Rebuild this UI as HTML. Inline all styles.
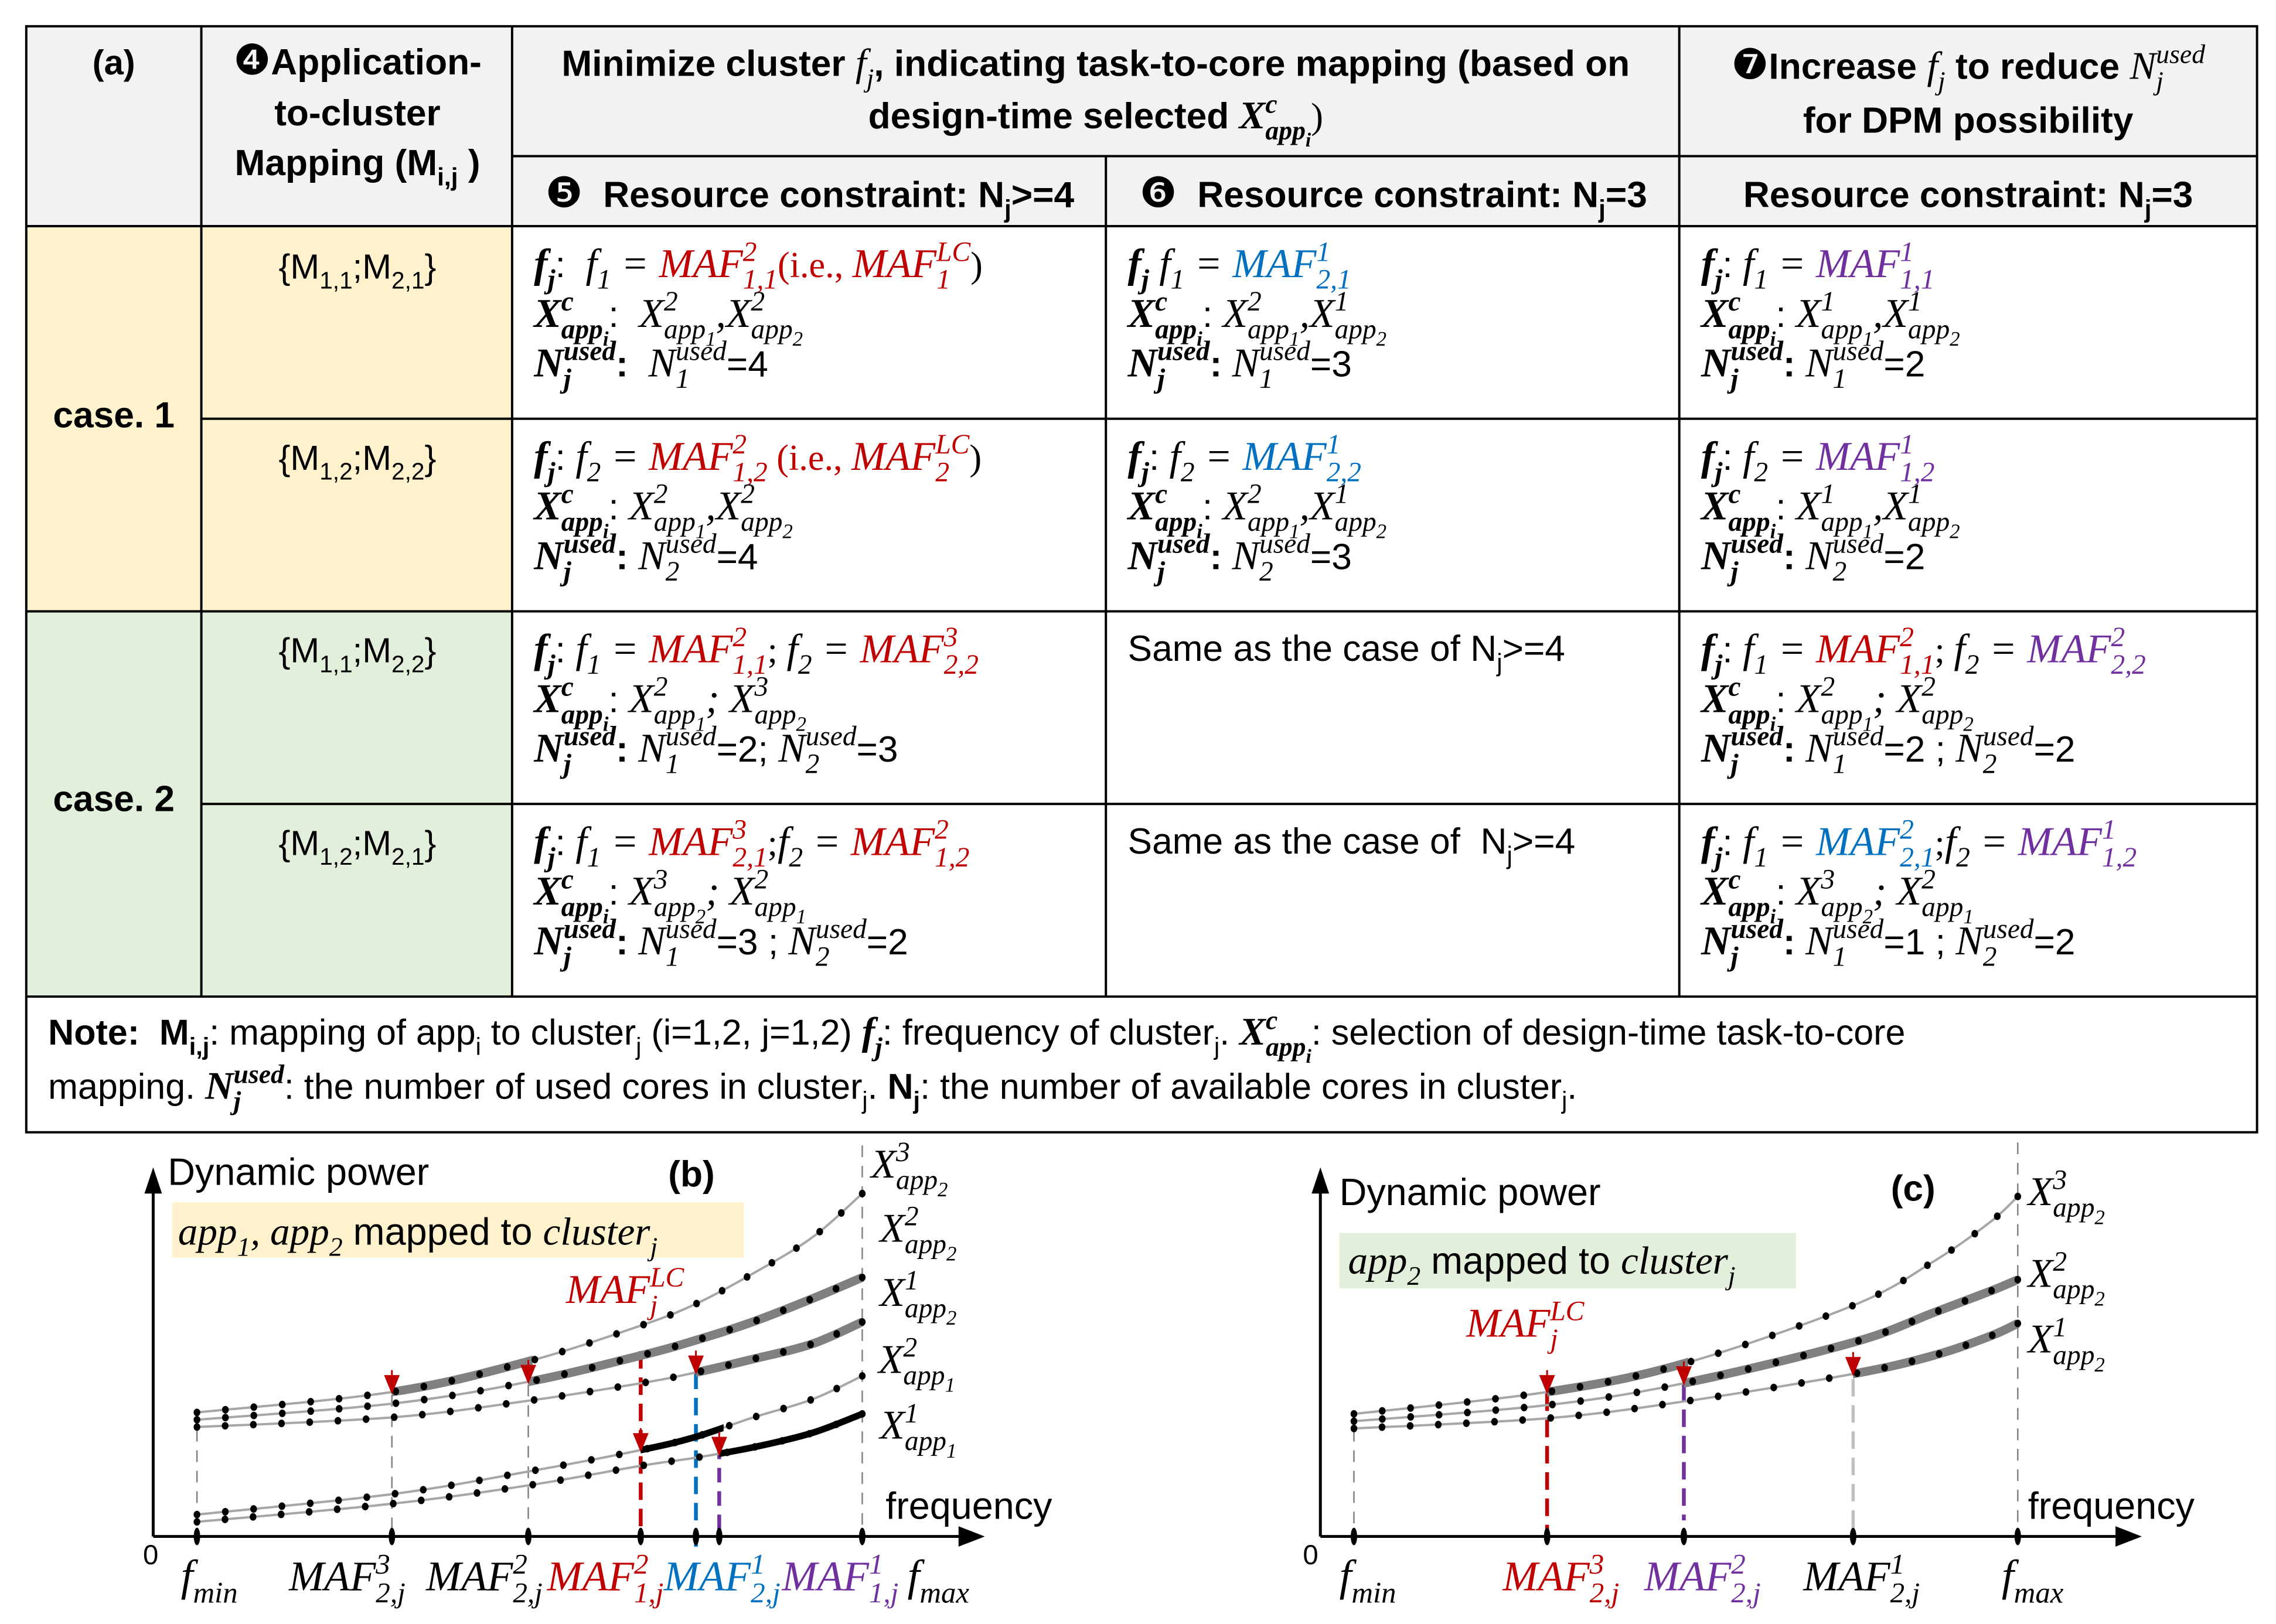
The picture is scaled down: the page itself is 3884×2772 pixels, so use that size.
<!DOCTYPE html>
<html><head><meta charset="utf-8"><title>Table and dynamic power charts</title>
<style>
html,body{margin:0;padding:0;background:#fff;}
svg{display:block;}
text{white-space:pre;}
</style></head>
<body>
<svg id="root" xmlns="http://www.w3.org/2000/svg" width="3884" height="2772" viewBox="0 0 1560 1113" preserveAspectRatio="none">
<defs id="defs"></defs>
<rect x="0" y="0" width="1560" height="1113" fill="#fff"/>
<g id="table">
<rect x="18" y="18" width="1529" height="137" fill="#f2f2f2"/>
<rect x="18" y="155" width="333" height="264" fill="#fff2cc"/>
<rect x="18" y="419" width="333" height="264" fill="#e2efda"/>
<g stroke="#000" stroke-width="1.6" fill="none">
<rect x="18" y="18" width="1529" height="758"/>
<line x1="138" y1="18" x2="138" y2="683"/>
<line x1="351" y1="18" x2="351" y2="683"/>
<line x1="758" y1="107" x2="758" y2="683"/>
<line x1="1151" y1="18" x2="1151" y2="683"/>
<line x1="351" y1="107" x2="1547" y2="107"/>
<line x1="18" y1="155" x2="1547" y2="155"/>
<line x1="138" y1="287" x2="1547" y2="287"/>
<line x1="18" y1="419" x2="1547" y2="419"/>
<line x1="138" y1="551" x2="1547" y2="551"/>
<line x1="18" y1="683" x2="1547" y2="683"/>
</g>
</g>
<g id="chartb"></g>
<g id="chartc"></g>
<g id="texts"></g>
</svg>
<script>
const NS='http://www.w3.org/2000/svg';
const R='#c00000', B='#0070c0', P='#7030a0';

// ---- chart (b) data ----
const bFreq=[0,0.293,0.498,0.667,0.75,0.835,0.925,1];
const bX3app2=[85,99,120,144.5,159.4,180,205,235];
const bX2app2=[80,91,106,124,134.5,147,163,177.5];
const bX1app2=[75,81.6,93,105,112.4,121.5,132,147];
const bX2app1=[15,29,44.5,59.2,68.3,81.4,94,110];
const bX1app1=[10,22.4,35,48.4,54,61,71,84];
const bTicks=[0,0.293,0.498,0.667,0.75,0.785,1];
// ---- chart (c) data ----
const cFreq=[0,0.291,0.497,0.752,0.873,0.958,1];
const cX3app2=[84,99,118.5,158.3,188.4,215.3,233];
const cX2app2=[79,90,105,133,153.3,168,176];
const cX1app2=[74,81,92.5,111.4,124,137.2,146];
const cTicks=[0,0.291,0.497,0.752,1];

function el(tag,attrs,parent){const e=document.createElementNS(NS,tag);for(const k in attrs)e.setAttribute(k,attrs[k]);parent.appendChild(e);return e;}

function T(parent,x,y,segs,size,anchor,name,msize){
  const t=document.createElementNS(NS,'text');
  t.setAttribute('x',x);t.setAttribute('y',y);
  t.setAttribute('font-size',size);
  if(anchor)t.setAttribute('text-anchor',anchor);
  
  
  parent.appendChild(t);
  let off=0,pending=0,prev=0,supW=0;
  function emit(txt,lvl,st,col,dx){
    if(!txt)return 0;
    const math=st.indexOf('m')>=0;
    let bs=math?(msize||size*1.08):size;
    if(st.indexOf('d')>=0)bs=size*1.15;
    const tg=[0,-0.4*bs,0.28*bs,0.46*bs], fs=[bs,0.68*bs,0.68*bs,0.5*bs];
    const s=document.createElementNS(NS,'tspan');
    
    
    s.setAttribute('dy',(tg[lvl]-off).toFixed(2));off=tg[lvl];
    const d=(dx||0)+pending;pending=0;
    if(d)s.setAttribute('dx',d.toFixed(2));
    s.setAttribute('font-size',fs[lvl].toFixed(2));
    let fam='"Liberation Sans", "DejaVu Sans", sans-serif';
    if(math){fam='"Liberation Serif", serif';s.setAttribute('font-style','italic');}
    if(st.indexOf('s')>=0)fam='"Liberation Serif", serif';
    if(st.indexOf('d')>=0){fam='"DejaVu Sans", sans-serif';}
    if(st.indexOf('b')>=0)s.setAttribute('font-weight','bold');
    s.setAttribute('font-family',fam);
    s.setAttribute('fill',col||'#000');
    s.textContent=txt;t.appendChild(s);
    let w=0;try{w=s.getComputedTextLength();}catch(e){w=txt.length*fs[lvl]*0.5;}
    return w;
  }
  for(const sg of segs){
    const str=sg[0],st=sg[1]||'',col=sg[2];
    let buf='',i=0;
    const flush=()=>{if(buf){emit(buf,0,st,col);prev=0;}buf='';};
    while(i<str.length){
      const c=str[i];
      if((c==='^'||c==='_')&&str[i+1]==='{'){
        flush();
        let j=str.indexOf('}',i);const inner=str.slice(i+2,j);i=j+1;
        if(c==='^'){supW=emit(inner,1,st,col);prev=1;}
        else{
          const after=(prev===1);
          const dx=after?-supW:0;
          const k=inner.indexOf('_');
          let subW;
          if(k>=0){subW=emit(inner.slice(0,k),2,st,col,dx);subW+=emit(inner.slice(k+1),3,st,col);}
          else subW=emit(inner,2,st,col,dx);
          if(after)pending=Math.max(0,supW-subW);
          prev=2;
        }
      } else {buf+=c;i++;}
    }
    flush();
  }
  return t;
}

const TX=document.getElementById('texts');
const S=25, MS=28;
// header
T(TX,78,51,[['(a)','b']],24,'middle','panel-a-label');
T(TX,245,51,[['❹','d'],['Application-','b']],25,'middle','col-mapping-header');
T(TX,245,86,[['to-cluster','b']],25,'middle','col-mapping-header-2');
T(TX,245,120,[['Mapping (M','b'],['_{i,j}','b'],[' )','b']],25,'middle','col-mapping-header-3');
T(TX,751,52,[['Minimize cluster ','b'],['f_{j}','m'],[', indicating task-to-core mapping (based on','b']],25,'middle','minimize-header',27);
T(TX,751,88,[['design-time selected ','b'],['X^{c}_{app_i}','mb'],[')','s']],25,'middle','minimize-header-2',27);
T(TX,1349,54,[['❼','d'],['Increase ','b'],['f_{j}','m'],[' to reduce ','b'],['N^{used}_{j}','m']],25,'middle','increase-header',27);
T(TX,1349,91,[['for DPM possibility','b']],25,'middle','increase-header-2');
T(TX,555,142,[['❺','d'],['  Resource constraint: N','b'],['_{j}','b'],['>=4','b']],25,'middle','constraint-header-5');
T(TX,955,142,[['❻','d'],['  Resource constraint: N','b'],['_{j}','b'],['=3','b']],25,'middle','constraint-header-6');
T(TX,1349,142,[['Resource constraint: N','b'],['_{j}','b'],['=3','b']],25,'middle','constraint-header-7');
T(TX,78,293,[['case. 1','b']],25,'middle','case1-label');
T(TX,78,556,[['case. 2','b']],25,'middle','case2-label');
T(TX,245,191,[['{M'],['_{1,1}'],[';M'],['_{2,1}'],['}']],24,'middle','mapping-row1');
T(TX,245,322,[['{M'],['_{1,2}'],[';M'],['_{2,2}'],['}']],24,'middle','mapping-row2');
T(TX,245,454,[['{M'],['_{1,1}'],[';M'],['_{2,2}'],['}']],24,'middle','mapping-row3');
T(TX,245,586,[['{M'],['_{1,2}'],[';M'],['_{2,1}'],['}']],24,'middle','mapping-row4');

function cell(x,top,l1,l2,l3,name){
  T(TX,x,top+35,l1,S,null,name+'-freq',MS);
  if(l2)T(TX,x,top+69,l2,S,null,name+'-mapping',MS);
  if(l3)T(TX,x,top+103,l3,S,null,name+'-used',MS);
}
const FJ=['f_{j}','mb'], XC=['X^{c}_{app_i}','mb'], NU=['N^{used}_{j}','mb'];
// row 1
cell(366,155,[FJ,[':  ',''],['f_{1} = ','m'],['MAF^{2}_{1,1}','m',R],['(i.e., ','s',R],['MAF^{LC}_{1}','m',R],[')','s']],
 [XC,[':  ',''],['X^{2}_{app_1},X^{2}_{app_2}','m']],[NU,[':  ','b'],['N^{used}_{1}','m'],['=4','']],'r1c1');
cell(773,155,[FJ,[' ',''],['f_{1} = ','m'],['MAF^{1}_{2,1}','m',B]],
 [XC,[': ',''],['X^{2}_{app_1},X^{1}_{app_2}','m']],[NU,[': ','b'],['N^{used}_{1}','m'],['=3','']],'r1c2');
cell(1166,155,[FJ,[': ',''],['f_{1} = ','m'],['MAF^{1}_{1,1}','m',P]],
 [XC,[': ',''],['X^{1}_{app_1},X^{1}_{app_2}','m']],[NU,[': ','b'],['N^{used}_{1}','m'],['=2','']],'r1c3');
// row 2
cell(366,287,[FJ,[': ',''],['f_{2} = ','m'],['MAF^{2}_{1,2}','m',R],[' (i.e., ','s',R],['MAF^{LC}_{2}','m',R],[')','s']],
 [XC,[': ',''],['X^{2}_{app_1},X^{2}_{app_2}','m']],[NU,[': ','b'],['N^{used}_{2}','m'],['=4','']],'r2c1');
cell(773,287,[FJ,[': ',''],['f_{2} = ','m'],['MAF^{1}_{2,2}','m',B]],
 [XC,[': ',''],['X^{2}_{app_1},X^{1}_{app_2}','m']],[NU,[': ','b'],['N^{used}_{2}','m'],['=3','']],'r2c2');
cell(1166,287,[FJ,[': ',''],['f_{2} = ','m'],['MAF^{1}_{1,2}','m',P]],
 [XC,[': ',''],['X^{1}_{app_1},X^{1}_{app_2}','m']],[NU,[': ','b'],['N^{used}_{2}','m'],['=2','']],'r2c3');
// row 3
cell(366,419,[FJ,[': ',''],['f_{1} = ','m'],['MAF^{2}_{1,1}','m',R],['; ','s'],['f_{2} = ','m'],['MAF^{3}_{2,2}','m',R]],
 [XC,[': ',''],['X^{2}_{app_1}; X^{3}_{app_2}','m']],[NU,[': ','b'],['N^{used}_{1}','m'],['=2; ',''],['N^{used}_{2}','m'],['=3','']],'r3c1');
T(TX,773,453,[['Same as the case of N'],['_{j}'],['>=4']],S,null,'r3c2-same');
cell(1166,419,[FJ,[': ',''],['f_{1} = ','m'],['MAF^{2}_{1,1}','m',R],['; ','s'],['f_{2} = ','m'],['MAF^{2}_{2,2}','m',P]],
 [XC,[': ',''],['X^{2}_{app_1}; X^{2}_{app_2}','m']],[NU,[': ','b'],['N^{used}_{1}','m'],['=2 ; ',''],['N^{used}_{2}','m'],['=2','']],'r3c3');
// row 4
cell(366,551,[FJ,[': ',''],['f_{1} = ','m'],['MAF^{3}_{2,1}','m',R],[';','s'],['f_{2} = ','m'],['MAF^{2}_{1,2}','m',R]],
 [XC,[': ',''],['X^{3}_{app_2}; X^{2}_{app_1}','m']],[NU,[': ','b'],['N^{used}_{1}','m'],['=3 ; ',''],['N^{used}_{2}','m'],['=2','']],'r4c1');
T(TX,773,585,[['Same as the case of  N'],['_{j}'],['>=4']],S,null,'r4c2-same');
cell(1166,551,[FJ,[': ',''],['f_{1} = ','m'],['MAF^{2}_{2,1}','m',B],[';','s'],['f_{2} = ','m'],['MAF^{1}_{1,2}','m',P]],
 [XC,[': ',''],['X^{3}_{app_2}; X^{2}_{app_1}','m']],[NU,[': ','b'],['N^{used}_{1}','m'],['=1 ; ',''],['N^{used}_{2}','m'],['=2','']],'r4c3');
// note
T(TX,33,716,[['Note:  M','b'],['_{i,j}','b'],[': mapping of app'],['_{i}'],[' to cluster'],['_{j}'],[' (i=1,2, j=1,2) '],FJ,[': frequency of cluster'],['_{j}'],['. '],XC,[': selection of design-time task-to-core','']],24.5,null,'note-line1',27);
T(TX,33,753,[['mapping. '],NU,[': the number of used cores in cluster'],['_{j}'],['. '],['N','b'],['_{j}','b'],[': the number of available cores in cluster'],['_{j}'],['.']],24.5,null,'note-line2',27);

// ---------- charts ----------
function smoothPath(pts){
  let d='M'+pts[0][0]+','+pts[0][1];
  for(let i=0;i<pts.length-1;i++){
    const p0=pts[Math.max(0,i-1)],p1=pts[i],p2=pts[i+1],p3=pts[Math.min(pts.length-1,i+2)];
    const c1=[p1[0]+(p2[0]-p0[0])/6,p1[1]+(p2[1]-p0[1])/6];
    const c2=[p2[0]-(p3[0]-p1[0])/6,p2[1]-(p3[1]-p1[1])/6];
    d+=' C'+c1[0].toFixed(2)+','+c1[1].toFixed(2)+' '+c2[0].toFixed(2)+','+c2[1].toFixed(2)+' '+p2[0].toFixed(2)+','+p2[1].toFixed(2);
  }
  return d;
}
let clipId=0;
function chart(g,cfg){
  const X=f=>cfg.x0+f*(cfg.x1-cfg.x0), Y=p=>cfg.axisY-p;
  const defs=document.getElementById('defs');
  for(const v of cfg.vlines){
    const ln=el('line',{x1:X(v.f),x2:X(v.f),y1:v.y1,y2:v.y2,stroke:v.c,'stroke-width':v.w,'stroke-dasharray':v.dash},g);
    
    
  }
  for(const s of cfg.series){
    const pts=cfg.freq.map((f,i)=>[X(f),Y(s.vals[i])]);
    const d=smoothPath(pts);
    const base=el('path',{d:d,fill:'none',stroke:'#a6a6a6','stroke-width':1.6},g);
    
    
    for(const th of s.thick){
      const id='clip'+(clipId++);
      const cp=el('clipPath',{id:id},defs);
      el('rect',{x:X(th[0]),y:0,width:X(th[1])-X(th[0])+3,height:1113},cp);
      const tp=el('path',{d:d,fill:'none',stroke:th[2],'stroke-width':th[3],'clip-path':'url(#'+id+')','stroke-linecap':'butt'},g);
      
      
    }
    const L=base.getTotalLength(), n=Math.round(L/19.5);
    for(let k=0;k<=n;k++){
      const pt=base.getPointAtLength(L*k/n);
      const c=el('ellipse',{cx:pt.x,cy:pt.y,rx:2.3,ry:2.6,fill:'#000'},g);
      
      
    }
    for(const af of s.arrows){
      const ax=X(af);
      let lo=0,hi=L;for(let it=0;it<30;it++){const m=(lo+hi)/2;if(base.getPointAtLength(m).x<ax)lo=m;else hi=m;}
      const ay=base.getPointAtLength(lo).y;
      const a=el('path',{d:'M'+ax+','+(ay-15)+' L'+ax+','+(ay-8)+' M'+(ax-4.5)+','+(ay-11)+' L'+(ax+4.5)+','+(ay-11)+' L'+ax+','+ay+' Z',fill:R,stroke:R,'stroke-width':1.2},g);
      
      
    }
  }
  const ax=el('path',{d:'M'+cfg.yAxisX+','+cfg.axisY+' H'+(cfg.xEnd-14)+' M'+cfg.yAxisX+','+cfg.axisY+' V'+(cfg.yTop+14),stroke:'#000','stroke-width':2,fill:'none'},g);
  
  
  const ah=el('path',{d:'M'+cfg.xEnd+','+cfg.axisY+' l-18,-7 v14 Z M'+cfg.yAxisX+','+cfg.yTop+' l-6,18 h12 Z',fill:'#000'},g);
  
  
  for(const tf of cfg.ticks){
    const tk=el('ellipse',{cx:X(tf),cy:cfg.axisY,rx:2.2,ry:6,fill:'#000'},g);
    
    
  }
}

chart(document.getElementById('chartb'),{
  x0:135,x1:591,axisY:1053,yAxisX:105,yTop:800,xEnd:675,freq:bFreq,ticks:bTicks,
  vlines:[{f:0,y1:980,y2:1053,c:'#808080',w:1,dash:'8 6'},{f:bTicks[1],y1:956,y2:1053,c:'#808080',w:1,dash:'8 6'},
   {f:bTicks[2],y1:935,y2:1053,c:'#808080',w:1,dash:'8 6'},{f:1,y1:785,y2:1060,c:'#808080',w:1,dash:'8 6'},
   {f:bTicks[3],y1:926,y2:1053,c:R,w:2.6,dash:'12 6'},{f:bTicks[4],y1:940,y2:1065,c:B,w:2.6,dash:'12 6'},
   {f:bTicks[5],y1:990,y2:1053,c:P,w:2.6,dash:'10 6'}],
  series:[
   {name:'x3-app2',vals:bX3app2,thick:[[bTicks[1],bTicks[2],'#808080',6]],arrows:[bTicks[1]]},
   {name:'x2-app2',vals:bX2app2,thick:[[bTicks[2],1,'#808080',6]],arrows:[bTicks[2]]},
   {name:'x1-app2',vals:bX1app2,thick:[[bTicks[4],1,'#808080',6]],arrows:[bTicks[4]]},
   {name:'x2-app1',vals:bX2app1,thick:[[bTicks[3],bTicks[5],'#000',4.5]],arrows:[bTicks[3]]},
   {name:'x1-app1',vals:bX1app1,thick:[[bTicks[5],1,'#000',4.5]],arrows:[bTicks[5]]}]
});
chart(document.getElementById('chartc'),{
  x0:928,x1:1383,axisY:1053,yAxisX:905,yTop:800,xEnd:1468,freq:cFreq,ticks:cTicks,
  vlines:[{f:0,y1:980,y2:1053,c:'#808080',w:1,dash:'8 6'},{f:1,y1:783,y2:1060,c:'#808080',w:1,dash:'8 6'},
   {f:cTicks[1],y1:955,y2:1053,c:R,w:2.6,dash:'12 6'},{f:cTicks[2],y1:948,y2:1042,c:P,w:2.6,dash:'12 6'},
   {f:cTicks[3],y1:945,y2:1053,c:'#bfbfbf',w:2.2,dash:'12 6'}],
  series:[
   {name:'x3-app2',vals:cX3app2,thick:[[cTicks[1],cTicks[2],'#808080',6]],arrows:[cTicks[1]]},
   {name:'x2-app2',vals:cX2app2,thick:[[cTicks[2],1,'#808080',6]],arrows:[cTicks[2]]},
   {name:'x1-app2',vals:cX1app2,thick:[[cTicks[3],1,'#808080',6]],arrows:[cTicks[3]]}]
});

const CB=document.getElementById('chartb'), CC=document.getElementById('chartc');
const yb=el('rect',{x:118,y:824,width:392,height:38,fill:'#fff2cc'},CB);


const gb=el('rect',{x:918,y:845,width:313,height:38,fill:'#e2efda'},CC);


T(CB,115,812,[['Dynamic power']],26,null,'y-axis-title-b');
T(CB,458,813,[['(b)','b']],25,null,'panel-b-label');
T(CB,122,853,[['app_{1}, app_{2}','m'],[' mapped to '],['cluster_{j}','m']],26,null,'chart-b-annotation',27);
T(CB,388,893,[['MAF^{LC}_{j}','m',R]],26,null,'maf-lc-label-b',28);
T(CB,597,807,[['X^{3}_{app_2}','m']],26,null,'label-x3-app2-b',28);
T(CB,603,851,[['X^{2}_{app_2}','m']],26,null,'label-x2-app2-b',28);
T(CB,603,895,[['X^{1}_{app_2}','m']],26,null,'label-x1-app2-b',28);
T(CB,602,941,[['X^{2}_{app_1}','m']],26,null,'label-x2-app1-b',28);
T(CB,603,986,[['X^{1}_{app_1}','m']],26,null,'label-x1-app1-b',28);
T(CB,607,1041,[['frequency']],26,null,'x-axis-title-b');
T(CB,98,1072,[['0']],19,null,'origin-b');
T(CB,124,1090,[['f_{min}','m']],28,null,'tick-fmin-b',30);
T(CB,198,1090,[['MAF^{3}_{2,j}','m']],28,null,'tick-maf3-b',29);
T(CB,292,1090,[['MAF^{2}_{2,j}','m']],28,null,'tick-maf2-b',29);
T(CB,375,1090,[['MAF^{2}_{1,j}','m',R]],28,null,'tick-maf21-b',29);
T(CB,455,1090,[['MAF^{1}_{2,j}','m',B]],28,null,'tick-maf12-b',29);
T(CB,536,1090,[['MAF^{1}_{1,j}','m',P]],28,null,'tick-maf11-b',29);
T(CB,622,1090,[['f_{max}','m']],28,null,'tick-fmax-b',30);

T(CC,918,826,[['Dynamic power']],26,null,'y-axis-title-c');
T(CC,1296,823,[['(c)','b']],25,null,'panel-c-label');
T(CC,924,873,[['app_{2}','m'],[' mapped to '],['cluster_{j}','m']],26,null,'chart-c-annotation',27);
T(CC,1005,916,[['MAF^{LC}_{j}','m',R]],26,null,'maf-lc-label-c',28);
T(CC,1390,826,[['X^{3}_{app_2}','m']],26,null,'label-x3-app2-c',28);
T(CC,1390,882,[['X^{2}_{app_2}','m']],26,null,'label-x2-app2-c',28);
T(CC,1390,927,[['X^{1}_{app_2}','m']],26,null,'label-x1-app2-c',28);
T(CC,1390,1041,[['frequency']],26,null,'x-axis-title-c');
T(CC,893,1072,[['0']],19,null,'origin-c');
T(CC,918,1090,[['f_{min}','m']],28,null,'tick-fmin-c',30);
T(CC,1030,1090,[['MAF^{3}_{2,j}','m',R]],28,null,'tick-maf3-c',29);
T(CC,1127,1090,[['MAF^{2}_{2,j}','m',P]],28,null,'tick-maf2-c',29);
T(CC,1236,1090,[['MAF^{1}_{2,j}','m']],28,null,'tick-maf1-c',29);
T(CC,1372,1090,[['f_{max}','m']],28,null,'tick-fmax-c',30);
</script>
</body></html>
